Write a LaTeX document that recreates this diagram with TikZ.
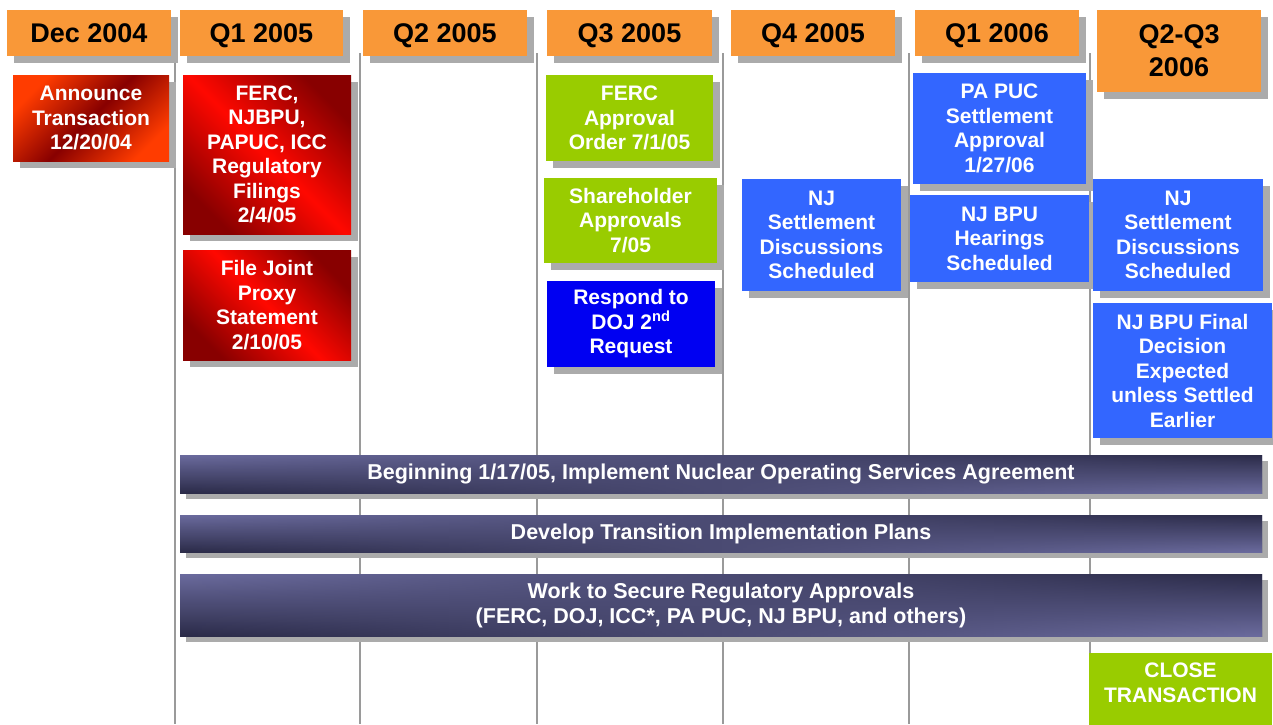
\documentclass[tikz,border=0pt]{standalone}
\usepackage{fontspec}
\setmainfont{Liberation Sans}
\usetikzlibrary{fadings,backgrounds}

% palette
\definecolor{hdrorange}{HTML}{F99838}
\definecolor{evgreen}{HTML}{99CC00}
\definecolor{evblue}{HTML}{3366FF}
\definecolor{evdeepblue}{HTML}{0000F2}
\definecolor{evred}{HTML}{FF0800}
\definecolor{evdark}{HTML}{880000}
\definecolor{evorange}{HTML}{FF3C00}
\definecolor{barlight}{HTML}{6B6B9E}
\definecolor{bardark}{HTML}{2B2B48}
\definecolor{shadowgray}{HTML}{ABABAB}
\definecolor{sepgray}{HTML}{9A9A9A}

\newcommand\hdrfont{\fontsize{27}{33}\selectfont\bfseries}
\newcommand\evfont{\fontsize{21}{24.5}\selectfont\bfseries}
\newcommand\barfont{\fontsize{21.5}{25}\selectfont\bfseries}

% transparent on the left, opaque on the right
\tikzfading[name=fadein east, left color=transparent!100, right color=transparent!0]

\tikzset{
  wh/.style 2 args={minimum width=#1, minimum height=#2},
  hdrbox/.style={fill=hdrorange, inner sep=0pt, align=center, font=\hdrfont, text=black},
  hdrline/.style={hdrbox, text height=19.4pt, text depth=0pt},
  evbox/.style={inner sep=0pt, align=center, font=\evfont, text=white},
  greenbox/.style={evbox, fill=evgreen},
  bluebox/.style={evbox, fill=evblue},
  deepbluebox/.style={evbox, fill=evdeepblue},
  redbox/.style={evbox, top color=evdark, bottom color=evdark, middle color=evred, shading angle=-45},
  orangebox/.style={evbox, top color=evorange, bottom color=evorange, middle color=evdark, shading angle=45},
  barbox/.style={inner sep=0pt, align=center, font=\barfont, text=white,
    top color=barlight, bottom color=bardark,
    postaction={path fading=fadein east, top color=bardark, bottom color=barlight}},
  sepline/.style={draw=sepgray, line width=1.6pt},
}

\newcommand\boxshadow[2]{\fill[shadowgray] ([shift={(#2,#2)}]#1.north west) rectangle ([shift={(#2,#2)}]#1.south east);}

\begin{document}
\begin{tikzpicture}[x=1pt,y=-1pt]
\useasboundingbox (0,0) rectangle (1273,724);

% period headers
\node[hdrline, wh={164}{46}] (h1) at (89,33)    {Dec 2004};
\node[hdrline, wh={163}{46}] (h2) at (261.5,33) {Q1 2005};
\node[hdrline, wh={164}{46}] (h3) at (445,33)   {Q2 2005};
\node[hdrline, wh={165}{46}] (h4) at (629.5,33) {Q3 2005};
\node[hdrline, wh={164}{46}] (h5) at (813,33)   {Q4 2005};
\node[hdrline, wh={164}{46}] (h6) at (997,33)   {Q1 2006};
\node[hdrbox,  wh={164}{82}] (h7) at (1179,51)  {Q2-Q3\\2006};

% milestones
\node[orangebox, wh={156}{86}]  (e1) at (91,118)     {Announce\\Transaction\\12/20/04};
\node[redbox, wh={168}{159}]    (e2) at (267,154.5)  {FERC,\\NJBPU,\\PAPUC, ICC\\Regulatory\\Filings\\2/4/05};
\node[redbox, wh={168}{110}]    (e3) at (267,305)    {File Joint\\Proxy\\Statement\\2/10/05};
\node[greenbox, wh={167}{86}]   (e4) at (629.5,118)  {FERC\\Approval\\Order 7/1/05};
\node[greenbox, wh={173}{85}]   (e5) at (630.5,220.5){Shareholder\\Approvals\\7/05};
\node[deepbluebox, wh={168}{86}](e6) at (631,324)    {Respond to\\DOJ 2\textsuperscript{nd}\\Request};
\node[bluebox, wh={159}{112}]   (e7) at (821.5,235)  {NJ\\Settlement\\Discussions\\Scheduled};
\node[bluebox, wh={173}{111}]   (e8) at (999.5,128.5){PA PUC\\Settlement\\Approval\\1/27/06};
\node[bluebox, wh={179}{87}]    (e9) at (999.5,238.5){NJ BPU\\Hearings\\Scheduled};
\node[bluebox, wh={170}{112}]   (e10) at (1178,235)  {NJ\\Settlement\\Discussions\\Scheduled};
\node[bluebox, wh={179}{135}]   (e11) at (1182.5,370.5){NJ BPU Final\\Decision\\Expected\\unless Settled\\Earlier};
\node[greenbox, wh={183}{60}]   (close) at (1180.5,683){CLOSE\\TRANSACTION};
\fill[evgreen] (close.south west) rectangle ([yshift=-20pt]close.south east);

% ongoing work streams
\node[barbox, wh={1082}{38}] (b1) at (721,474)   {Beginning 1/17/05, Implement Nuclear Operating Services Agreement};
\node[barbox, wh={1082}{37}] (b2) at (721,533.5) {Develop Transition Implementation Plans};
\node[barbox, wh={1082}{62}] (b3) at (721,605)   {Work to Secure Regulatory Approvals\\(FERC, DOJ, ICC*, PA PUC, NJ BPU, and others)};

\begin{scope}[on background layer]
  \fill[white] (0,0) rectangle (1273,724);
  % column separators
  \foreach \x [count=\i] in {175,360,537,723,909,1090}{
    \coordinate (s\i top) at (\x,53);
    \coordinate (s\i bot) at (\x,724);
    \draw[sepline] (s\i top) -- (s\i bot);
  }
  % drop shadows
  \foreach \n in {h1,h2,h3,h4,h5,h6,h7,e1,e2,e3,e4,e5,e6,e7,e8,e9,e10,e11}{\boxshadow{\n}{7}}
  \foreach \n in {b1,b2,b3}{\boxshadow{\n}{6}}
\end{scope}
\end{tikzpicture}
\end{document}
